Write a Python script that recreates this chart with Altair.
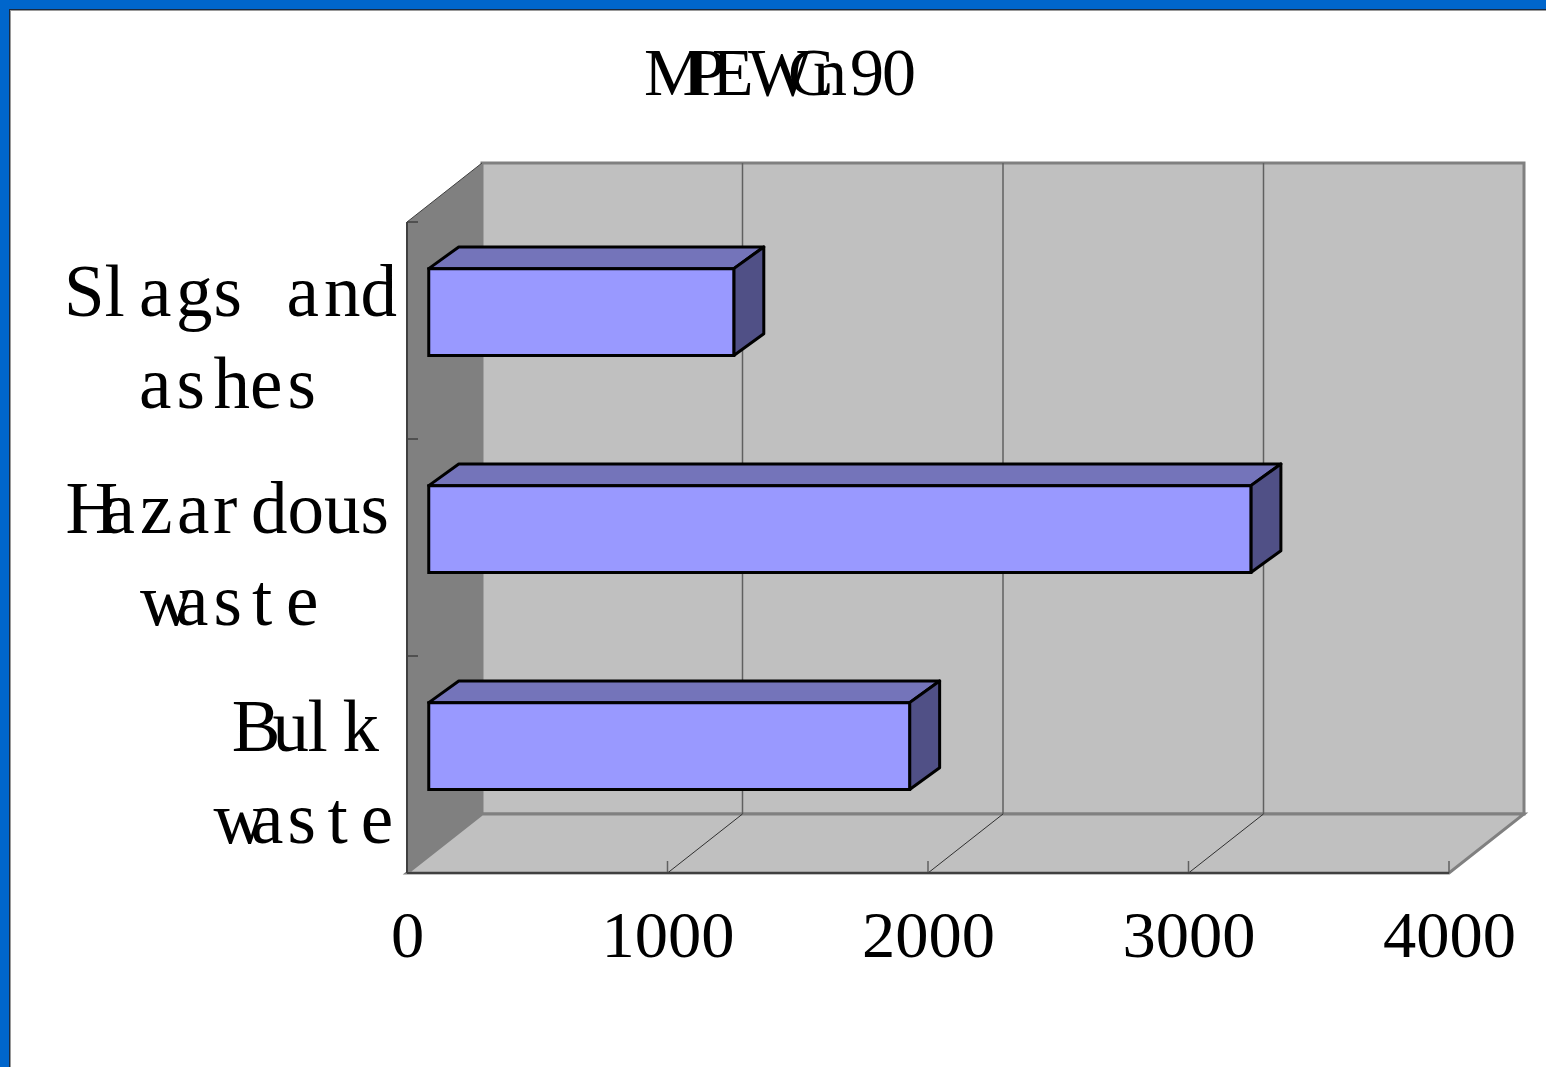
import altair as alt
import pandas as pd

# Bars, listed from the bottom of the axis upwards
categories = ["Bulk waste", "Hazardous waste", "Slags and ashes"]
values = [1846, 3156, 1171]
x_ticks = [0, 1000, 2000, 3000, 4000]

# Plot frame on the page, in pixels
LEFT, TOP, WIDTH, HEIGHT = 407, 222, 1042, 651
PAGE_W, PAGE_H = 1546, 1067
X_MAX, Y_MAX = 4000, 3

# Oblique projection of the box: how far the back plane shifts, in axis units
DEPTH_X = 75 / WIDTH * X_MAX
DEPTH_Y = 59 / HEIGHT * Y_MAX
BAR_NEAR = 0.29
BAR_DEPTH = 0.40
BAR_LOW, BAR_HIGH = 0.385, 0.785


def ux(px):
    return (px - LEFT) / WIDTH * X_MAX


def uy(px):
    return (TOP + HEIGHT - px) / HEIGHT * Y_MAX


FONT = "Liberation Serif"
TITLE_SIZE = 68
LABEL_SIZE = 73
TICK_SIZE = 66.5

# Loosely typeset labels: each run of glyphs with its left edge and baseline
title_runs = [("M", 644, 95), ("P", 687.5, 95), ("E", 712, 95), ("W", 748, 95),
              ("C", 788, 95), ("n", 813, 95), ("9", 850, 95), ("0", 882, 95)]
label_runs = [
    ("Sl", 64, 316), ("a", 139, 316), ("g", 176, 316), ("s", 213.6, 316),
    ("a", 286.6, 316), ("nd", 324, 316),
    ("a", 139, 408), ("s", 176.6, 408), ("h", 213.4, 408), ("e", 250, 408), ("s", 287.6, 408),
    ("H", 65.5, 533), ("a", 102.6, 533), ("z", 140, 533), ("a", 177, 533), ("r", 213, 533),
    ("dous", 251, 533),
    ("w", 140, 625), ("a", 176, 625), ("s", 213.5, 625), ("t", 252, 625), ("e", 286, 625),
    ("B", 231.7, 751), ("u", 272.5, 751), ("l", 307.5, 751), ("k", 342.4, 751),
    ("w", 213.5, 843), ("a", 251, 843), ("s", 287.4, 843), ("t", 327.6, 843), ("e", 360.7, 843),
]

x_scale = alt.Scale(domain=[0, X_MAX], range=[0, WIDTH], nice=False, zero=False)
y_scale = alt.Scale(domain=[0, Y_MAX], range=[HEIGHT, 0], nice=False, zero=False)

# Value axis carries the numeric labels only
x_axis = alt.Axis(
    values=x_ticks, ticks=False, domain=False, grid=False, labels=True,
    labelFont=FONT, labelFontSize=TICK_SIZE, labelColor="black",
    labelBaseline="alphabetic", labelPadding=83, labelOverlap=False,
    labelFlush=False, format="d",
)


def X(field):
    return alt.X(field, type="quantitative", scale=x_scale, axis=x_axis, title=None, stack=None)


def Y(field):
    return alt.Y(field, type="quantitative", scale=y_scale, axis=None, title=None, stack=None)


GRAY = "#c0c0c0"
WALL = "#808080"
LINE = "#404040"

# Slide border along the top and left edges
frame = pd.DataFrame([
    {"x": ux(0), "x2": ux(PAGE_W), "y": uy(10), "y2": uy(11), "c": "#9a9a9a"},
    {"x": ux(10), "x2": ux(11), "y": uy(10), "y2": uy(PAGE_H), "c": "#9a9a9a"},
    {"x": ux(0), "x2": ux(PAGE_W), "y": uy(9), "y2": uy(10), "c": "#1a2a40"},
    {"x": ux(9), "x2": ux(10), "y": uy(9), "y2": uy(PAGE_H), "c": "#1a2a40"},
    {"x": ux(0), "x2": ux(PAGE_W), "y": uy(0), "y2": uy(9), "c": "#0066cc"},
    {"x": ux(0), "x2": ux(9), "y": uy(0), "y2": uy(PAGE_H), "c": "#0066cc"},
])
frame_layer = alt.Chart(frame).mark_rect().encode(
    x=X("x"), x2="x2", y=Y("y"), y2="y2", color=alt.Color("c:N", scale=None)
)

# Box walls
left_wall = alt.Chart(pd.DataFrame({
    "x": [0, DEPTH_X], "y": [Y_MAX, Y_MAX + DEPTH_Y], "y2": [0, DEPTH_Y]
})).mark_area(orient="vertical", color=WALL).encode(x=X("x"), y=Y("y"), y2="y2")

back_wall = alt.Chart(pd.DataFrame({
    "x": [DEPTH_X], "x2": [X_MAX + DEPTH_X], "y": [DEPTH_Y], "y2": [Y_MAX + DEPTH_Y]
})).mark_rect(fill=GRAY, stroke=WALL, strokeWidth=3).encode(
    x=X("x"), x2="x2", y=Y("y"), y2="y2"
)

floor = alt.Chart(pd.DataFrame({
    "y": [0, DEPTH_Y], "x": [0, DEPTH_X], "x2": [X_MAX, X_MAX + DEPTH_X]
})).mark_area(orient="horizontal", fill=GRAY, stroke=WALL, strokeWidth=3).encode(
    y=Y("y"), x=X("x"), x2="x2"
)

# Value gridlines on the back wall, their diagonals across the floor and the short ticks
grid = [t for t in x_ticks if 0 < t < X_MAX]
wall_grid = alt.Chart(pd.DataFrame({
    "x": [t + DEPTH_X for t in grid], "y": [DEPTH_Y] * len(grid), "y2": [Y_MAX + DEPTH_Y] * len(grid)
})).mark_rule(color="#606060", strokeWidth=1.5).encode(x=X("x"), y=Y("y"), y2="y2")

diagonals = alt.Chart(pd.DataFrame(
    [{"t": t, "x": t, "y": 0} for t in grid] +
    [{"t": t, "x": t + DEPTH_X, "y": DEPTH_Y} for t in grid]
)).mark_line(color="#303030", strokeWidth=1).encode(x=X("x"), y=Y("y"), detail="t:N")

x_tick_marks = alt.Chart(pd.DataFrame({
    "x": x_ticks[1:], "y": [0] * 4, "y2": [12 / HEIGHT * Y_MAX] * 4
})).mark_rule(color="#606060", strokeWidth=1.5).encode(x=X("x"), y=Y("y"), y2="y2")

y_tick_marks = alt.Chart(pd.DataFrame({
    "x": [0, 0, 0], "x2": [11 / WIDTH * X_MAX] * 3, "y": [1, 2, 3]
})).mark_rule(color=LINE, strokeWidth=1.5).encode(x=X("x"), x2="x2", y=Y("y"))

front_edges = alt.Chart(pd.DataFrame([
    {"x": 0, "x2": 0, "y": 0, "y2": Y_MAX},
    {"x": 0, "x2": X_MAX, "y": 0, "y2": 0},
])).mark_rule(color=LINE, strokeWidth=2).encode(x=X("x"), x2="x2", y=Y("y"), y2="y2")

top_corner = alt.Chart(pd.DataFrame({
    "x": [0, DEPTH_X], "y": [Y_MAX, Y_MAX + DEPTH_Y]
})).mark_line(color=LINE, strokeWidth=1).encode(x=X("x"), y=Y("y"))

# Faces of each bar, derived from its value
near_x = BAR_NEAR * DEPTH_X
shift_x = BAR_DEPTH * DEPTH_X
shift_y = BAR_DEPTH * DEPTH_Y * 0.92

front_rows, top_rows, side_rows = [], [], []
for i, (name, v) in enumerate(zip(categories, values)):
    x0, x1 = near_x, near_x + v
    low, high = i + BAR_LOW, i + BAR_HIGH
    front_rows.append({"bar": name, "x": x0, "x2": x1, "y": low, "y2": high})
    top_rows += [
        {"bar": name, "y": high, "x": x0, "x2": x1},
        {"bar": name, "y": high + shift_y, "x": x0 + shift_x, "x2": x1 + shift_x},
    ]
    side_rows += [
        {"bar": name, "x": x1, "y": high, "y2": low},
        {"bar": name, "x": x1 + shift_x, "y": high + shift_y, "y2": low + shift_y},
    ]

bar_top = alt.Chart(pd.DataFrame(top_rows)).mark_area(
    orient="horizontal", fill="#7474ba", stroke="black", strokeWidth=3, strokeJoin="round"
).encode(y=Y("y"), x=X("x"), x2="x2", detail="bar:N")

bar_side = alt.Chart(pd.DataFrame(side_rows)).mark_area(
    orient="vertical", fill="#505086", stroke="black", strokeWidth=3, strokeJoin="round"
).encode(x=X("x"), y=Y("y"), y2="y2", detail="bar:N")

bar_front = alt.Chart(pd.DataFrame(front_rows)).mark_rect(
    fill="#9999ff", stroke="black", strokeWidth=3
).encode(x=X("x"), x2="x2", y=Y("y"), y2="y2")


def text_layer(rows, size):
    table = pd.DataFrame([{"t": t, "x": ux(px), "y": uy(py)} for t, px, py in rows])
    return alt.Chart(table).mark_text(
        font=FONT, fontSize=size, align="left", baseline="alphabetic", color="black"
    ).encode(x=X("x"), y=Y("y"), text="t:N")


chart = alt.layer(
    frame_layer, left_wall, back_wall, floor, wall_grid, diagonals, x_tick_marks,
    y_tick_marks, front_edges, top_corner, bar_top, bar_side, bar_front,
    text_layer(title_runs, TITLE_SIZE), text_layer(label_runs, LABEL_SIZE),
).properties(
    width=WIDTH, height=HEIGHT,
    padding={"left": LEFT, "top": TOP, "right": PAGE_W - LEFT - WIDTH, "bottom": PAGE_H - TOP - HEIGHT},
    autosize=alt.AutoSizeParams(type="none"),
    background="white",
).configure_view(stroke=None)

chart.save("out.html", embed_options={"renderer": "svg", "actions": False})
